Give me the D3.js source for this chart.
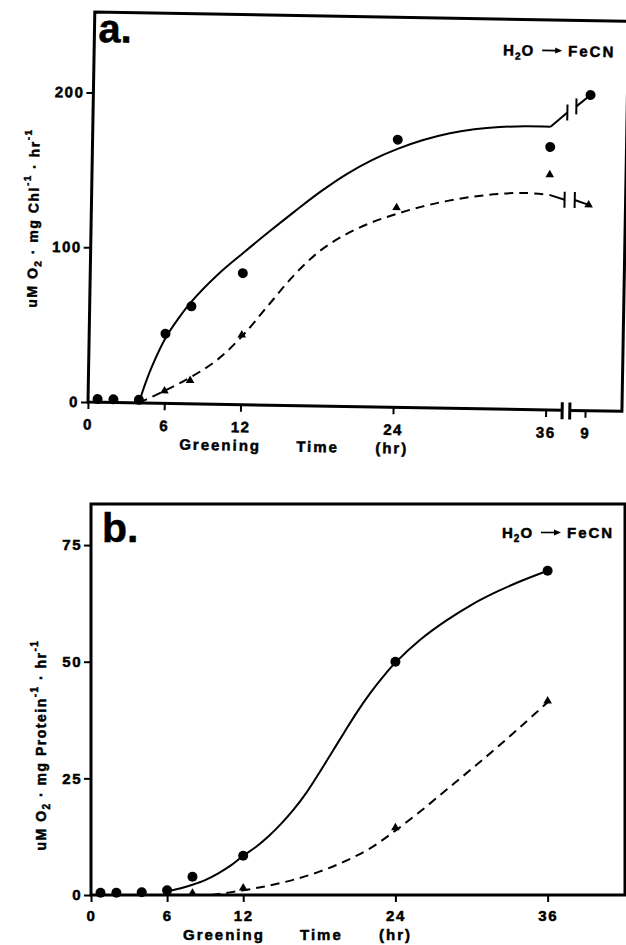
<!DOCTYPE html>
<html>
<head>
<meta charset="utf-8">
<script src="https://cdnjs.cloudflare.com/ajax/libs/d3/7.8.5/d3.min.js"></script>
<style>
body { margin: 0; background: #fff; }
svg text { font-family: "Liberation Sans", Arial, sans-serif; font-weight: bold; fill: #000; stroke: #000; stroke-width: 0.5px; }
</style>
</head>
<body>
<script>
// panel a: rate per mg chlorophyll
var hrsCircA = [0.75, 2, 4, 6, 8, 12, 24, 36];
var chlCircA = [2, 2, 2, 45, 63, 85, 173, 170];
var hrsTriA = [6, 8, 12, 24, 36];
var chlTriA = [8, 15, 45, 129, 152];
var day9CircA = 204;
var day9TriA = 133;

// hand drawn curves of panel a (up to 36 h, the stub to the break, then after the break)
var solidA_h = [4, 4.5, 5, 6, 7, 8, 10, 12, 14, 16, 18, 20, 22, 24, 26, 28, 30, 32, 34, 36];
var solidA_v = [0, 13, 24, 42, 55, 66, 83.5, 98, 112, 125.5, 138.5, 150, 159.5, 167, 173, 177.5, 180.5, 182.3, 183, 183];
var solidAStub_v = [183, 192.5];
var solidA9_v = [196.5, 204];
var dashA_h = [4, 6, 8, 10, 12, 14, 16, 18, 20, 22, 24, 26, 28, 30, 32, 34, 36];
var dashA_v = [0, 8, 17, 28, 44, 64, 84, 100, 111, 119, 125, 130, 134, 137, 139, 140, 139];
var dashAStub_v = [139, 136];
var dashA9_v = [136, 133];

// panel b: rate per mg protein
var hrsCircB = [0.75, 2, 4, 6, 8, 12, 24, 36];
var protCircB = [0.5, 0.5, 0.6, 1, 3.9, 8.4, 50, 69.5];
var hrsTriB = [8, 12, 24, 36];
var protTriB = [0.4, 1.5, 14.4, 41.6];
var solidB_h = [6, 7, 8, 9, 10, 11, 12, 13, 14, 15, 16, 17, 18, 19, 20, 21, 22, 23, 24, 26, 28, 30, 32, 34, 36];
var solidB_v = [0.8, 1.4, 2.2, 3.2, 4.6, 6.3, 8.4, 10.3, 12.6, 15.3, 18.4, 22, 26.2, 30.6, 35, 39.3, 43.2, 46.7, 49.8, 54.8, 58.8, 62.2, 65, 67.4, 69.5];
var dashB_h = [9.5, 12, 14, 16, 18, 20, 22, 24, 26, 28, 30, 32, 34, 36];
var dashB_v = [0, 1.0, 2.0, 3.3, 5.0, 7.2, 10.0, 13.8, 18.0, 22.5, 27.0, 31.6, 36.4, 41.3];

var xTicks = [0, 6, 12, 24, 36];
var yTicksA = [0, 100, 200];
var yTicksB = [0, 25, 50, 75];

// broken axis in panel a
var breakFrom = 37.3, breakTo = 37.9, resumeAt = 38.0, day9Pos = 39.1;

var svg = d3.select('body').append('svg')
    .attr('width', 626)
    .attr('height', 945)

var gA = svg.append('g').attr('transform', 'translate(88,402) rotate(1)')
var gB = svg.append('g').attr('transform', 'translate(91,895)')

var xA = d3.scaleLinear().domain([0, 42]).range([0, 534])
var yA = d3.scaleLinear().domain([0, 252]).range([0, -390])
var xB = d3.scaleLinear().domain([0, 42.1]).range([0, 534])
var yB = d3.scaleLinear().domain([0, 83.8]).range([0, -391])

function styleAxis(a) {
    a.attr('font-size', null).attr('font-family', null)
    a.select('.domain').remove()
    a.selectAll('line').attr('stroke', '#000').attr('stroke-width', 2)
    a.selectAll('text').attr('font-size', 15).attr('letter-spacing', 1.5).attr('fill', '#000')
}

function drawAxes(g, x, y, yTicks, xtv, xfmt, pad) {
    g.append('g')
        .call(d3.axisBottom(x).tickValues(xtv).tickSize(7).tickPadding(pad).tickFormat(xfmt))
        .call(styleAxis)
    g.append('g')
        .call(d3.axisLeft(y).tickValues(yTicks).tickSize(7).tickPadding(2))
        .call(styleAxis)
}

function drawLine(g, x, y, hs, vs, dashed) {
    var line = d3.line()
        .x(function (d) { return x(d[0]) })
        .y(function (d) { return y(d[1]) })
        .curve(d3.curveCatmullRom.alpha(0.5))
    g.append('path')
        .attr('d', line(d3.zip(hs, vs)))
        .attr('fill', 'none')
        .attr('stroke', '#000')
        .attr('stroke-width', 2)
        .attr('stroke-dasharray', dashed ? '9,6' : null)
}

function drawCircles(g, x, y, hs, vs) {
    g.selectAll(null)
        .data(d3.zip(hs, vs))
        .enter().append('circle')
        .attr('cx', function (d) { return x(d[0]) })
        .attr('cy', function (d) { return y(d[1]) })
        .attr('r', 5)
        .attr('fill', '#000')
}

function drawTriangles(g, x, y, hs, vs) {
    g.selectAll(null)
        .data(d3.zip(hs, vs))
        .enter().append('path')
        .attr('d', d3.symbol(d3.symbolTriangle).size(32))
        .attr('transform', function (d) { return 'translate(' + x(d[0]) + ',' + y(d[1]) + ')' })
        .attr('fill', '#000')
}

function legend(g, x0, y0) {
    var t = g.append('text').attr('x', x0).attr('y', y0).attr('font-size', 15).attr('letter-spacing', 1)
    t.append('tspan').text('H')
    t.append('tspan').attr('dy', 4).attr('font-size', 10).text('2')
    t.append('tspan').attr('dy', -4).text('O')
    g.append('line')
        .attr('x1', x0 + 39).attr('x2', x0 + 53)
        .attr('y1', y0 - 5.5).attr('y2', y0 - 5.5)
        .attr('stroke', '#000').attr('stroke-width', 1.6)
    g.append('path')
        .attr('d', 'M' + (x0 + 52) + ',' + (y0 - 8.5) + 'L' + (x0 + 59) + ',' + (y0 - 5.5) + 'L' + (x0 + 52) + ',' + (y0 - 2.5) + 'Z')
        .attr('fill', '#000')
    g.append('text').attr('x', x0 + 65).attr('y', y0).attr('font-size', 15).attr('letter-spacing', 2).text('FeCN')
}

function yTitle(g, x0, y0, unit) {
    var t = g.append('text')
        .attr('transform', 'translate(' + x0 + ',' + y0 + ') rotate(-90)')
        .attr('text-anchor', 'middle')
        .attr('font-size', 14)
        .attr('letter-spacing', 1.5)
    t.append('tspan').text('uM O')
    t.append('tspan').attr('dy', 4).attr('font-size', 10).text('2')
    t.append('tspan').attr('dy', -4).text(' · mg ' + unit)
    t.append('tspan').attr('dy', -8).attr('font-size', 10).text('-1')
    t.append('tspan').attr('dy', 8).text(' · hr')
    t.append('tspan').attr('dy', -8).attr('font-size', 10).text('-1')
}

function xTitle(g, y0) {
    var words = [['Greening', 92], ['Time', 209], ['(hr)', 288]]
    g.selectAll(null)
        .data(words)
        .enter().append('text')
        .attr('x', function (d) { return d[1] })
        .attr('y', y0)
        .attr('font-size', 15)
        .attr('letter-spacing', 2)
        .text(function (d) { return d[0] })
}

// ---- panel a ----
gA.append('path')
    .attr('d', 'M' + xA(breakFrom) + ',0H0V' + yA(252) + 'H' + xA(42) + 'V0H' + xA(breakTo))
    .attr('fill', 'none').attr('stroke', '#000').attr('stroke-width', 3)
gA.selectAll(null)
    .data([breakFrom, breakTo])
    .enter().append('line')
    .attr('x1', function (d) { return xA(d) }).attr('x2', function (d) { return xA(d) })
    .attr('y1', -8).attr('y2', 9)
    .attr('stroke', '#000').attr('stroke-width', 3)

drawAxes(gA, xA, yA, yTicksA, xTicks.concat([day9Pos]),
    function (d) { return d === day9Pos ? '9' : d }, 10)

drawLine(gA, xA, yA, solidA_h, solidA_v, false)
drawLine(gA, xA, yA, [36, breakFrom], solidAStub_v, false)
drawLine(gA, xA, yA, [resumeAt, day9Pos], solidA9_v, false)
drawLine(gA, xA, yA, dashA_h, dashA_v, true)
drawLine(gA, xA, yA, [36, breakFrom - 0.1], dashAStub_v, false)
drawLine(gA, xA, yA, [resumeAt, day9Pos], dashA9_v, false)

// little bars where the curves are cut
var cutsA = [[breakFrom, solidAStub_v[1]], [resumeAt, solidA9_v[0]],
    [breakFrom - 0.1, dashAStub_v[1]], [resumeAt, dashA9_v[0]]]
gA.selectAll(null)
    .data(cutsA)
    .enter().append('line')
    .attr('x1', function (d) { return xA(d[0]) }).attr('x2', function (d) { return xA(d[0]) })
    .attr('y1', function (d) { return yA(d[1]) - 8 }).attr('y2', function (d) { return yA(d[1]) + 8 })
    .attr('stroke', '#000').attr('stroke-width', 2)

drawCircles(gA, xA, yA, hrsCircA.concat([day9Pos]), chlCircA.concat([day9CircA]))
drawTriangles(gA, xA, yA, hrsTriA.concat([day9Pos]), chlTriA.concat([day9TriA]))

gA.append('text').attr('x', 4).attr('y', -360).attr('font-size', 40).text('a.')
legend(gA, 409, -354)
yTitle(gA, -53, -183, 'Chl')
xTitle(gA, 46)

// ---- panel b ----
gB.append('path')
    .attr('d', 'M' + xB(42.1) + ',0H0V' + yB(83.8) + 'H' + xB(42.1) + 'Z')
    .attr('fill', 'none').attr('stroke', '#000').attr('stroke-width', 3)

drawAxes(gB, xB, yB, yTicksB, xTicks, function (d) { return d }, 8)

drawLine(gB, xB, yB, solidB_h, solidB_v, false)
drawLine(gB, xB, yB, dashB_h, dashB_v, true)
drawCircles(gB, xB, yB, hrsCircB, protCircB)
drawTriangles(gB, xB, yB, hrsTriB, protTriB)

gB.append('text').attr('x', 11).attr('y', -353).attr('font-size', 41).text('b.')
legend(gB, 411, -357)
yTitle(gB, -45, -150, 'Protein')
xTitle(gB, 45)
</script>
</body>
</html>
